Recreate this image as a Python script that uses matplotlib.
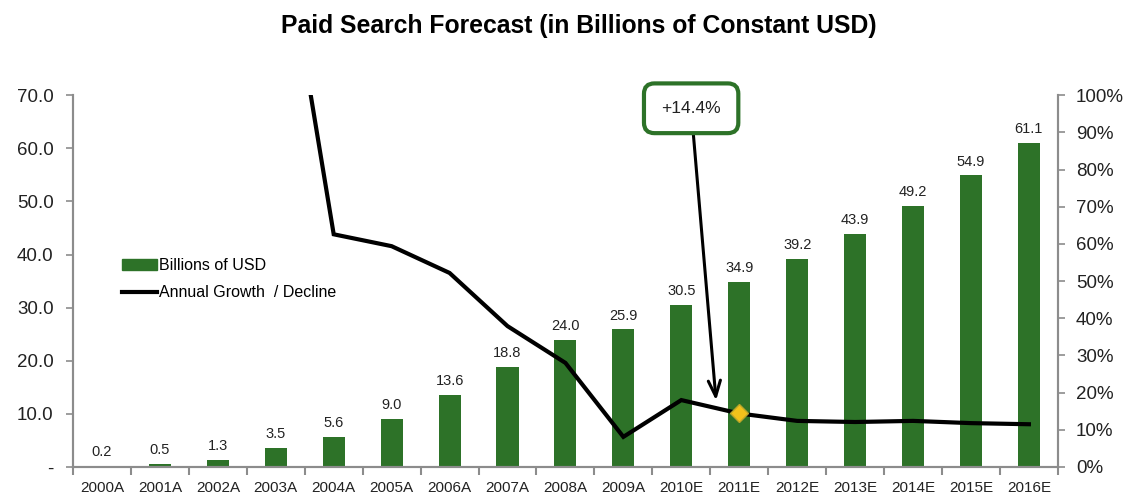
import numpy as np
import matplotlib.pyplot as plt
from matplotlib.lines import Line2D
from matplotlib.patches import Patch

plt.rcParams["font.family"] = ["Liberation Sans", "DejaVu Sans"]

# 年次データ
years = ["2000A", "2001A", "2002A", "2003A", "2004A", "2005A", "2006A", "2007A", "2008A",
         "2009A", "2010E", "2011E", "2012E", "2013E", "2014E", "2015E", "2016E"]
billions = [0.2, 0.5, 1.3, 3.5, 5.6, 9.0, 13.6, 18.8, 24.0,
            25.9, 30.5, 34.9, 39.2, 43.9, 49.2, 54.9, 61.1]
# 成長率(%)  2003Aは上限を超えるので枠外
growth_years = years[3:]
growth = [157.0, 62.6, 59.4, 52.2, 37.9, 28.0, 8.1, 18.0, 14.4, 12.4, 12.1, 12.4, 11.8, 11.5]
callout_year = "2011E"
callout_value = 14.4

green = "#2d7228"
grey = "#8c8c8c"
txt = "#222222"

fig = plt.figure(figsize=(11.32, 5.03), dpi=100)
ax = fig.add_axes([0.0645, 0.0716, 0.870, 0.739])
ax2 = ax.twinx()

x = np.arange(len(years))
ax.bar(x, billions, width=0.38, color=green, zorder=2)
for xi, v in zip(x, billions):
    ax.text(xi, v + 1.3, f"{v:.1f}", ha="center", va="bottom", fontsize=10.5, color=txt)

ax.set_xlim(-0.5, len(years) - 0.5)
ax.set_ylim(0, 70)
ax.set_yticks(np.arange(0, 71, 10))
ax.set_yticklabels(["-"] + [f"{v:.1f}" for v in range(10, 71, 10)], fontsize=13.5, color=txt)
ax.set_xticks(x)
ax.set_xticklabels(years, fontsize=11, color=txt)
ax.set_xticks(np.arange(-0.5, len(years), 1), minor=True)
ax.tick_params(axis="x", which="major", length=0, pad=10)
ax.tick_params(axis="x", which="minor", length=6, color=grey, width=1.5)
ax.tick_params(axis="y", length=5, color=grey, width=1.2, pad=9)

gx = [years.index(y) for y in growth_years]
ax2.plot(gx, growth, color="black", lw=3, zorder=3, solid_joinstyle="miter")
ax2.plot(years.index(callout_year), callout_value, marker="D", ms=9, color="#f2c21b",
         mec="#b9a52a", mew=1, zorder=4)
ax2.set_ylim(0, 100)
ax2.set_yticks(np.arange(0, 101, 10))
ax2.set_yticklabels([f"{v}%" for v in range(0, 101, 10)], fontsize=13.5, color=txt)
ax2.tick_params(axis="y", length=5, color=grey, width=1.2, pad=8)

for a in (ax, ax2):
    a.spines["top"].set_visible(False)
    for s in ("left", "right", "bottom"):
        a.spines[s].set_color(grey)
        a.spines[s].set_linewidth(1.5)

# +14.4% の吹き出し
ax2.annotate(f"+{callout_value}%", xy=(years.index(callout_year) - 0.4, callout_value + 3.5),
             xytext=(10.17, 96.5), ha="center", va="center", fontsize=12.5, color=txt,
             bbox=dict(boxstyle="round,pad=1.0,rounding_size=0.6", fc="white", ec=green, lw=3),
             arrowprops=dict(arrowstyle="->,head_length=0.9,head_width=0.35", color="black",
                             lw=2.2, shrinkA=0, shrinkB=0),
             annotation_clip=False, zorder=5)

handles = [Patch(color=green, label="Billions of USD"),
           Line2D([0], [0], color="black", lw=3, label="Annual Growth  / Decline")]
ax.legend(handles=handles, loc="upper left", bbox_to_anchor=(0.035, 0.6), frameon=False,
          fontsize=11.5, handlelength=2.2, handletextpad=0.1, labelspacing=0.75)

fig.text(0.511, 0.948, "Paid Search Forecast (in Billions of Constant USD)", ha="center",
         va="center", fontsize=17.8, fontweight="bold")

fig.savefig("out.png", dpi=100)
